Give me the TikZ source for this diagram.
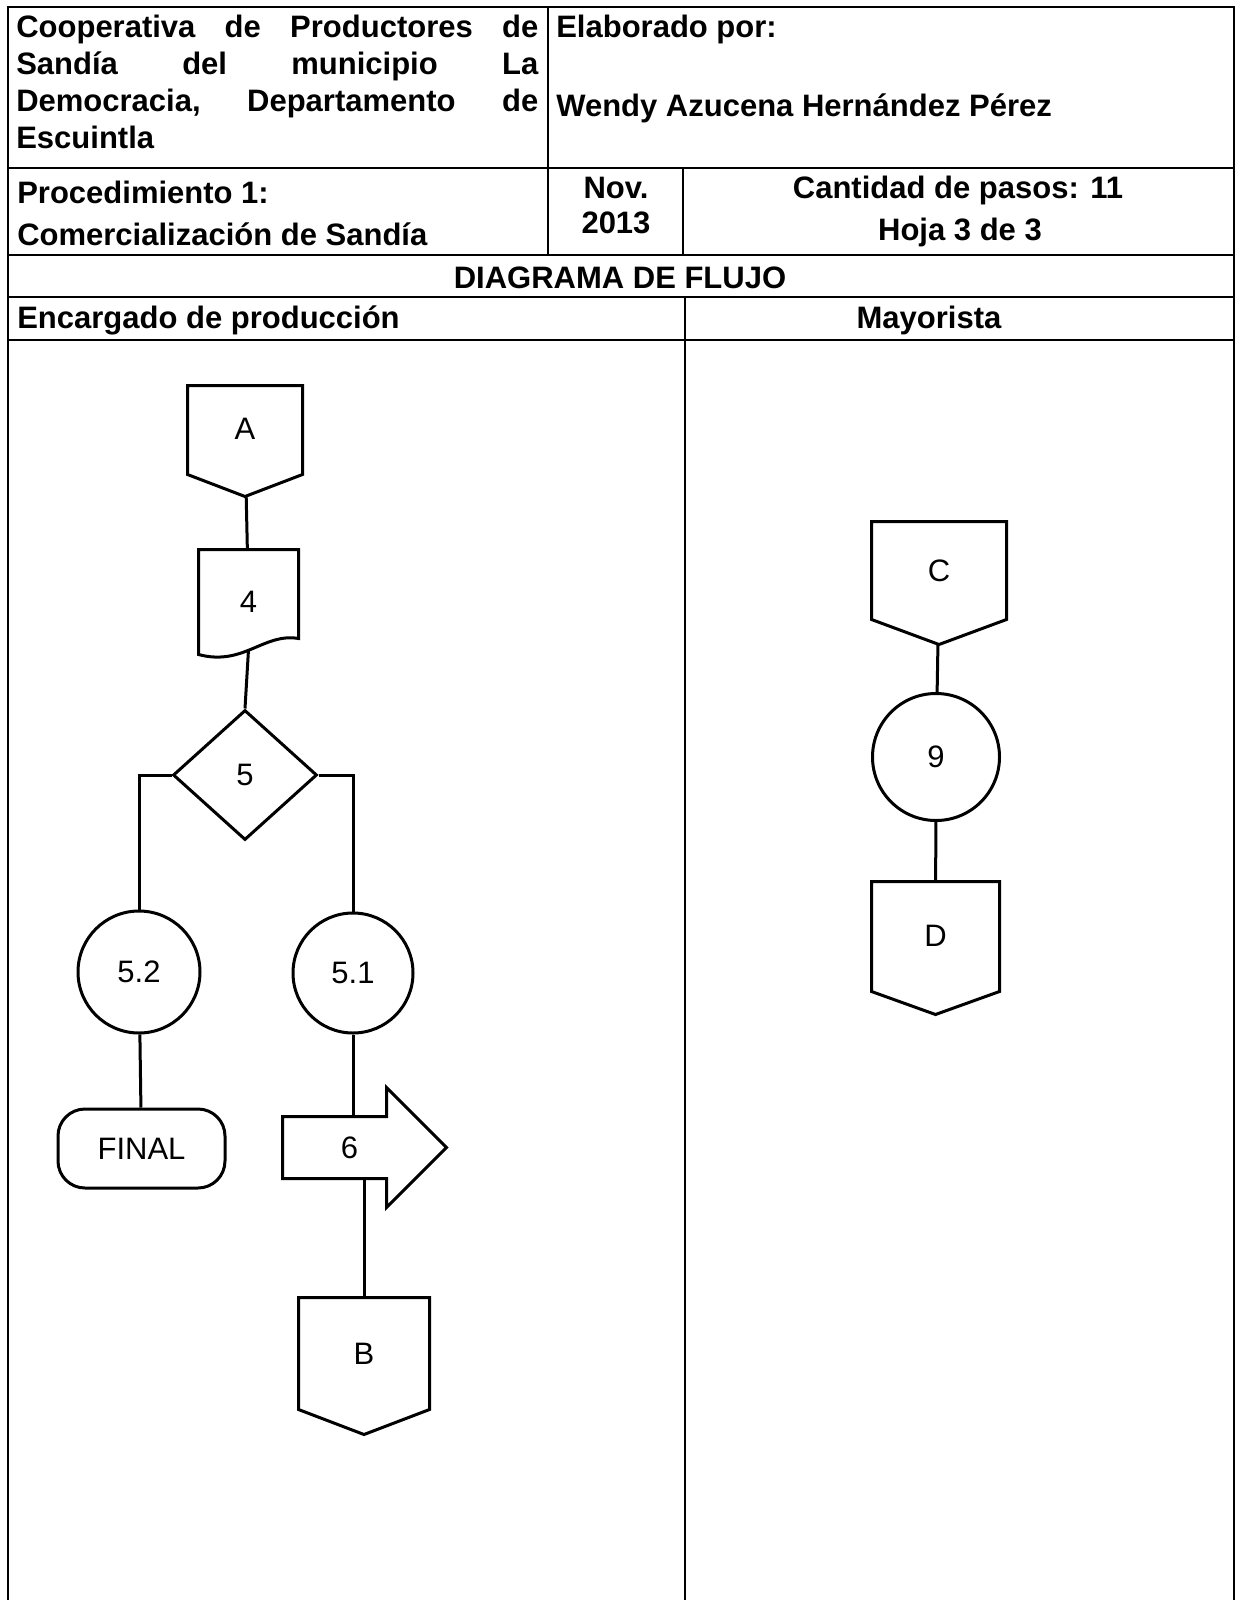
\documentclass[tikz,border=0pt]{standalone}
\usepackage{fontspec}
\setmainfont{Liberation Sans}
\usetikzlibrary{shapes.geometric}

\begin{document}
\begin{tikzpicture}[x=1pt, y=-1pt, line width=2.6pt,
        paso/.style={draw, circle, inner sep=0pt},
        conector/.style={rectangle, inner sep=0pt, text depth=24pt}]
    \useasboundingbox (0,0) rectangle (1236,1600);
    % tabla
    \draw (8,1600) -- (8,7) -- (1234,7) -- (1234,1600);
    \draw (8,168) -- (1234,168);
    \draw (8,255) -- (1234,255);
    \draw (8,297) -- (1234,297);
    \draw (8,340) -- (1234,340);
    \draw (548,7) -- (548,255);
    \draw (683,168) -- (683,255);
    \draw (685,297) -- (685,1600);
    \begin{scope}[every node/.style={font=\fontsize{31}{37}\selectfont\bfseries, inner sep=0pt}]
        \node (coop) [anchor=north west, text width=522pt, align=left] at (15,13.5)
            {Cooperativa\hfill de\hfill Productores\hfill de\\
             Sandía\hfill del\hfill municipio\hfill La\\
             Democracia,\hfill Departamento\hfill de\\
             Escuintla};
        \node (elab) [anchor=base west] at (555,38) {Elaborado por:};
        \node (autor) [anchor=base west] at (555,117) {Wendy Azucena Hernández Pérez};
        \node (proc) [anchor=base west] at (16,203) {Procedimiento 1:};
        \node (comer) [anchor=base west] at (16,245) {Comercialización de Sandía};
        \node (mes) [anchor=base] at (616,198) {Nov.};
        \node (anio) [anchor=base] at (616,233) {2013};
        \node (pasos) [anchor=base] at (958,198) {Cantidad de pasos: 11};
        \node (hoja) [anchor=base] at (960,240) {Hoja 3 de 3};
        \node (diag) [anchor=base] at (620,288) {DIAGRAMA DE FLUJO};
        \node (enc) [anchor=base west] at (16,328) {Encargado de producción};
        \node (may) [anchor=base] at (929,328) {Mayorista};
    \end{scope}
    \begin{scope}[line width=3pt, every node/.style={font=\fontsize{31}{37}\selectfont}]
        % Encargado de produccion
        \node (A) [conector, minimum width=112pt, minimum height=108pt] at (245,441) {A};
        \node (p4) [rectangle, inner sep=0pt, minimum width=97pt, minimum height=102pt] at (248.5,602) {4};
        \node (p5) [draw, diamond, inner sep=0pt, minimum width=144pt, minimum height=130pt] at (245,775) {5};
        \node (p52) [paso, minimum size=122pt] at (139,972) {5.2};
        \node (p51) [paso, minimum size=120pt] at (353,973) {5.1};
        \node (fin) [draw, rounded corners=27pt, inner sep=0pt, minimum width=167pt, minimum height=79pt] at (141.5,1148.5) {FINAL};
        \node (p6) [rectangle, inner sep=0pt, minimum width=101pt, minimum height=59pt] at (334.5,1147.5) {\hspace*{30pt}6};
        \node (B) [conector, minimum width=128pt, minimum height=134pt] at (364,1366) {B};
        % Mayorista
        \node (C) [conector, minimum width=132pt, minimum height=120pt] at (939,583) {C};
        \node (p9) [paso, minimum size=127pt] at (936,757) {9};
        \node (D) [conector, minimum width=125pt, minimum height=130pt] at (935.5,948) {D};
        % contornos
        \draw (A.north west) -- (A.north east) -- ([yshift=22pt]A.south east) -- (A.south) -- ([yshift=22pt]A.south west) -- cycle;
        \draw (B.north west) -- (B.north east) -- ([yshift=25pt]B.south east) -- (B.south) -- ([yshift=25pt]B.south west) -- cycle;
        \draw (C.north west) -- (C.north east) -- ([yshift=25pt]C.south east) -- (C.south) -- ([yshift=25pt]C.south west) -- cycle;
        \draw (D.north west) -- (D.north east) -- ([yshift=23pt]D.south east) -- (D.south) -- ([yshift=23pt]D.south west) -- cycle;
        \draw (p4.north west) -- (p4.north east) -- ([yshift=16pt]p4.south east)
            .. controls ([xshift=15pt,yshift=22pt]p4.south) and ([xshift=-5pt,yshift=-12pt]p4.south) .. (p4.south west) -- cycle;
        \draw (p6.north west) -- (p6.north east) -- ([yshift=29pt]p6.north east) -- ([xshift=60pt]p6.east)
            -- ([yshift=-29pt]p6.south east) -- (p6.south east) -- (p6.south west) -- cycle;
        % conexiones
        \draw (A) -- (p4);
        \draw ([yshift=5pt]p4.south) -- (p5.north);
        \draw (p5.west) -| (p52);
        \draw (p5.east) -| (p51);
        \draw (p52) -- (fin);
        \draw (p51) -- (p51 |- p6.north);
        \draw (B |- p6.south) -- (B);
        \draw (C) -- (p9);
        \draw (p9) -- (D);
    \end{scope}
\end{tikzpicture}
\end{document}
